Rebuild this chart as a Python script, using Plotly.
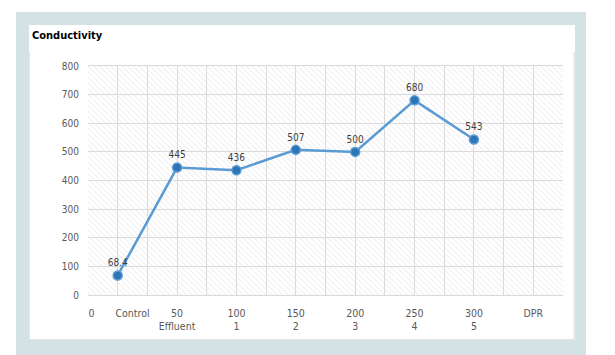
import plotly.graph_objects as go

# ---- data ----
x_vals = [0, 50, 100, 150, 200, 250, 300]
conductivity = [68.4, 445, 436, 507, 500, 680, 543]
data_labels = ["68.4", "445", "436", "507", "500", "680", "543"]

tick_pos = [-22, 12.5, 50, 100, 150, 200, 250, 300, 350]
tick_text = ["0", "Control", "50<br>Effluent", "100<br>1", "150<br>2",
             "200<br>3", "250<br>4", "300<br>5", "DPR"]

x_range = [-25, 375]
y_range = [0, 800]

FONT = "Liberation Sans Narrow, Arial Narrow, DejaVu Sans Condensed, sans-serif"

# plot area pixel geometry
L, R, T, B = 88, 563, 66, 295
W, H = 615, 355


def px(xp):
    return (xp - L) / (R - L)


def py(yp):
    return (B - yp) / (B - T)


fig = go.Figure()

# hatched plot background
fig.add_trace(go.Scatter(
    x=[x_range[0], x_range[1], x_range[1], x_range[0]],
    y=[y_range[0], y_range[0], y_range[1], y_range[1]],
    fill="toself", mode="none", hoverinfo="skip", showlegend=False,
    fillcolor="rgba(0,0,0,0)",
    fillpattern=dict(shape="\\", fgcolor="#e4e4e4", size=4, solidity=0.2,
                     fillmode="replace"),
    xaxis="x", yaxis="y",
))

# data line
fig.add_trace(go.Scatter(
    x=x_vals, y=conductivity, text=data_labels,
    mode="lines+markers+text", textposition="top center",
    textfont=dict(family=FONT, size=10, color="#404040"),
    line=dict(color="#5b9bd5", width=2.5),
    marker=dict(size=9, color="#2e75b6", line=dict(color="#5b9bd5", width=1.5)),
    showlegend=False, xaxis="x2", yaxis="y", cliponaxis=False,
))

shapes = [
    # teal frame
    dict(type="rect", xref="paper", yref="paper", x0=px(16), x1=px(586),
         y0=py(355), y1=py(12), fillcolor="#d4e2e3", line=dict(width=0), layer="below"),
    # white panel
    dict(type="rect", xref="paper", yref="paper", x0=px(29), x1=px(575),
         y0=py(340), y1=py(25), fillcolor="#ffffff", line=dict(width=0), layer="below"),
    # faint inner chart border
    dict(type="line", xref="paper", yref="paper", x0=px(29.5), x1=px(29.5),
         y0=py(340), y1=py(52), line=dict(color="#e6e6e6", width=1), layer="below"),
    dict(type="line", xref="paper", yref="paper", x0=px(574), x1=px(574),
         y0=py(340), y1=py(52), line=dict(color="#d9d9d9", width=1), layer="below"),
    dict(type="line", xref="paper", yref="paper", x0=px(29.5), x1=px(574),
         y0=py(339.5), y1=py(339.5), line=dict(color="#e3e3e3", width=1), layer="below"),
]

fig.update_layout(
    width=W, height=H,
    margin=dict(l=L, r=W - R, t=T, b=H - B, pad=0),
    paper_bgcolor="#ffffff", plot_bgcolor="#ffffff",
    font=dict(family=FONT, size=10, color="#595959"),
    shapes=shapes,
    annotations=[dict(
        text="<b>Conductivity</b>", xref="paper", yref="paper",
        x=px(30), y=py(35), xanchor="left", yanchor="middle", showarrow=False,
        font=dict(family=FONT, size=11, color="#000000"),
    )],
    xaxis=dict(range=x_range, dtick=25, tick0=-25, showgrid=True,
               gridcolor="#d9d9d9", gridwidth=1, showticklabels=False,
               zeroline=False, showline=True, mirror=True, linecolor="#d9d9d9",
               ticks=""),
    xaxis2=dict(range=x_range, overlaying="x", side="bottom", tickmode="array",
                tickvals=tick_pos, ticktext=tick_text, showgrid=False,
                zeroline=False, showline=False, ticks="", ticklabelstandoff=10,
                tickfont=dict(family=FONT, size=10.5, color="#595959")),
    yaxis=dict(range=y_range, dtick=100, showgrid=True, gridcolor="#d9d9d9",
               gridwidth=1, zeroline=False, ticks="", ticklabelstandoff=8,
               tickfont=dict(family=FONT, size=10, color="#595959")),
)

fig.write_html("out.html", config={"displayModeBar": False},
               post_script="document.body.style.margin='0px';")
